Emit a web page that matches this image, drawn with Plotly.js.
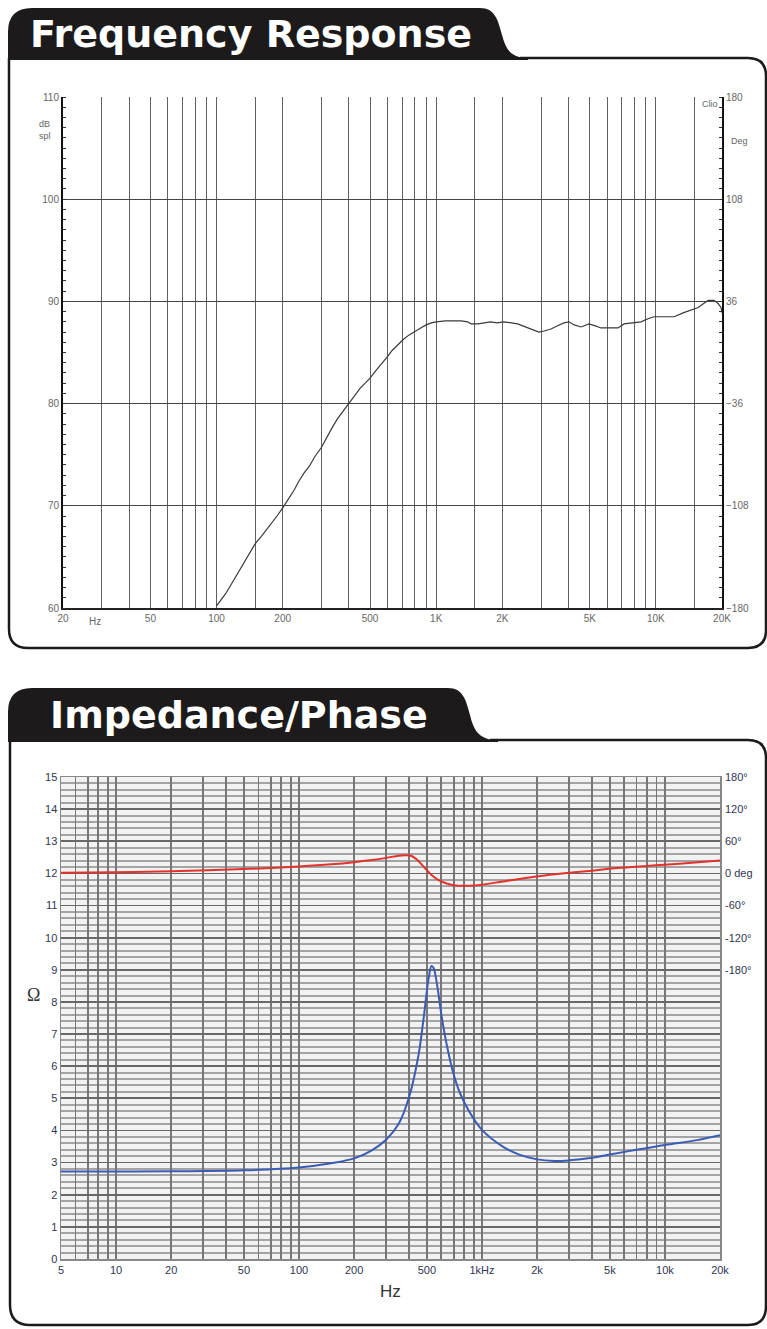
<!DOCTYPE html>
<html>
<head>
<meta charset="utf-8">
<script src="https://cdn.plot.ly/plotly-3.0.1.min.js"></script>
<style>html,body{margin:0;padding:0;background:#fff;}#chart{width:767px;height:1329px;}</style>
</head>
<body>
<div id="chart"></div>
<script>
// ---------- Frequency response (top) ----------
const frFreq = [100,105,110,118,125,132,140,150,160,170,180,190,200,212,225,237,250,265,280,300,315,335,355,375,400,425,450,475,500,530,560,600,630,670,710,750,800,850,900,950,1000,1100,1200,1300,1390,1440,1550,1650,1770,1900,2030,2200,2350,2480,2610,2750,2930,3100,3330,3550,3810,4020,4250,4560,4960,5300,5630,6200,6720,7160,7800,8560,9200,9800,10800,12100,13400,14500,15600,16500,17300,18400,19200,19800,20000];
const frDb = [60.2,60.8,61.4,62.5,63.4,64.3,65.3,66.3,67.0,67.7,68.4,69.1,69.8,70.6,71.5,72.4,73.2,73.9,74.8,75.7,76.6,77.6,78.5,79.2,80.1,80.8,81.5,82.0,82.5,83.2,83.8,84.6,85.2,85.8,86.3,86.7,87.1,87.4,87.7,87.9,88.0,88.1,88.1,88.1,88.0,87.8,87.8,87.9,88.0,87.9,88.0,87.9,87.8,87.6,87.4,87.2,87.0,87.1,87.3,87.6,87.9,88.0,87.7,87.5,87.8,87.6,87.4,87.4,87.4,87.8,87.9,88.0,88.3,88.5,88.5,88.5,88.9,89.2,89.4,89.8,90.1,90.1,89.8,89.4,88.9];
const frGridVals = [20,30,40,50,60,70,80,90,100,150,200,300,400,500,600,700,800,900,1000,1500,2000,3000,4000,5000,6000,7000,8000,9000,10000,15000,20000];
const frGridText = ["20","","","50","","","","","100","","200","","","500","","","","","1K","","2K","","","5K","","","","","10K","","20K"];
const frDbTicks = [60,70,80,90,100,110];
const frDegTicks = [-180,-108,-36,36,108,180];

// ---------- Impedance / phase (bottom) ----------
const zFreq = [5,10,20,50,100,150,200,250,300,350,400,450,480,510,530,545,560,580,600,640,700,760,850,1000,1300,1600,2000,2500,3000,4000,5000,7000,10000,15000,20000];
const zOhm  = [2.72,2.72,2.73,2.76,2.85,2.98,3.13,3.38,3.72,4.2,5.05,6.35,7.5,8.7,9.12,9.05,8.75,8.2,7.6,6.7,5.75,5.15,4.6,4.02,3.5,3.25,3.1,3.05,3.07,3.15,3.25,3.4,3.55,3.7,3.85];
const phFreq = [5,10,20,50,100,150,200,250,300,350,380,410,440,470,500,530,570,620,680,750,850,1000,1300,1700,2200,3000,4000,5500,8000,12000,20000];
const phDeg  = [1,2,4,8,13,17,21,25,29,33,34,33,26,16,6,-3,-11,-17,-21,-23,-23,-21,-15,-9,-4,1,5,10,14,18,24];
const zGridVals = [5,6,7,8,9,10,20,30,40,50,60,70,80,90,100,200,300,400,500,600,700,800,900,1000,2000,3000,4000,5000,6000,7000,8000,9000,10000,20000];
const zGridText = ["5","","","","","10","20","","","50","","","","","100","200","","","500","","","","","1kHz","2k","","","5k","","","","","10k","20k"];
const zPhaseTicks = [180,120,60,0,-60,-120,-180];
const zPhaseText = ["180°","120°","60°","0 deg","-60°","-120°","-180°"];

const W = 767, H = 1329;
const px = x => x / W;
const py = y => 1 - y / H;
function path(pts) {
  return pts.map(c => {
    const cmd = c[0];
    const nums = c.slice(1);
    const out = [];
    for (let i = 0; i < nums.length; i += 2) out.push(px(nums[i]).toFixed(5) + ',' + py(nums[i+1]).toFixed(5));
    return cmd + (out.length ? ' ' + out.join(' ') : '');
  }).join(' ');
}

const traces = [
  {x: frFreq, y: frDb, xaxis: 'x', yaxis: 'y', mode: 'lines', line: {color: '#3a3a3a', width: 1.2}, hoverinfo: 'skip'},
  {x: [], y: [], xaxis: 'x', yaxis: 'y3', mode: 'lines', hoverinfo: 'skip'},
  {x: zFreq, y: zOhm, xaxis: 'x2', yaxis: 'y2', mode: 'lines', line: {color: '#3b5cb5', width: 2, shape: 'spline'}, hoverinfo: 'skip'},
  {x: phFreq, y: phDeg, xaxis: 'x2', yaxis: 'y4', mode: 'lines', line: {color: '#e3322b', width: 2, shape: 'spline'}, hoverinfo: 'skip'}
];

const smallFont = {family: 'Liberation Sans, Arial, sans-serif', size: 10, color: '#666'};
const navyFont = {family: 'Liberation Sans, Arial, sans-serif', size: 11, color: '#2f3552'};

const layout = {
  width: W, height: H,
  margin: {l: 0, r: 0, t: 0, b: 0},
  paper_bgcolor: '#fff', plot_bgcolor: '#fff',
  showlegend: false,
  xaxis: {type: 'log', domain: [px(63), px(722)], range: [Math.log10(20), Math.log10(20000)],
    tickmode: 'array', tickvals: frGridVals, ticktext: frGridText, tickfont: smallFont,
    showgrid: true, gridcolor: '#606060', gridwidth: 1, zeroline: false,
    showline: true, linecolor: '#222', linewidth: 1.5, ticks: '', anchor: 'y', fixedrange: true},
  yaxis: {domain: [py(608), py(97)], range: [60, 110], tickmode: 'array', tickvals: frDbTicks,
    tickfont: smallFont, showgrid: true, gridcolor: '#444', gridwidth: 1.2, zeroline: false,
    showline: true, linecolor: '#111', linewidth: 2, ticks: '', anchor: 'x',
    minor: {tickmode: 'linear', tick0: 60, dtick: 1, ticks: 'inside', ticklen: 3, tickcolor: '#333', showgrid: false}},
  yaxis3: {overlaying: 'y', side: 'right', anchor: 'x', range: [-180, 180], tickmode: 'array', tickvals: frDegTicks,
    tickfont: smallFont, showgrid: false, zeroline: false, showline: true, linecolor: '#111', linewidth: 2, ticks: '',
    minor: {tickmode: 'linear', tick0: -180, dtick: 7.2, ticks: 'inside', ticklen: 3, tickcolor: '#333', showgrid: false}},
  xaxis2: {type: 'log', domain: [px(61), px(720)], range: [Math.log10(5), Math.log10(20000)],
    tickmode: 'array', tickvals: zGridVals, ticktext: zGridText, tickfont: navyFont,
    showgrid: true, gridcolor: '#777', gridwidth: 1.8, zeroline: false,
    showline: true, linecolor: '#888', linewidth: 1.5, mirror: true, ticks: '', anchor: 'y2'},
  yaxis2: {domain: [py(1259), py(777)], range: [0, 15], tickmode: 'linear', tick0: 0, dtick: 1,
    tickfont: navyFont, showgrid: true, gridcolor: '#686868', gridwidth: 1.8, zeroline: false,
    showline: true, linecolor: '#888', linewidth: 1.5, mirror: true, ticks: '', anchor: 'x2',
    minor: {tickmode: 'linear', tick0: 0, dtick: 0.2, showgrid: true, gridcolor: '#a4a4a4', gridwidth: 2, ticks: ''}},
  yaxis4: {overlaying: 'y2', side: 'right', anchor: 'x2', range: [-720, 180], tickmode: 'array',
    tickvals: zPhaseTicks, ticktext: zPhaseText, tickfont: navyFont, showgrid: false, zeroline: false,
    showline: false, ticks: '', ticklabelstandoff: 4},
  shapes: [
    {type: 'rect', xref: 'x2 domain', yref: 'y2 domain', x0: 0, x1: 1, y0: 0, y1: 1, fillcolor: '#f2f2f2', line: {width: 0}, layer: 'below'},
    {type: 'path', xref: 'paper', yref: 'paper', fillcolor: '#1c1a1a', line: {width: 0},
      path: path([['M',8,60],['L',8,32],['Q',8,8,32,8],['L',480,8],['C',495,8,498,20,502,35],['C',506,50,511,58,528,58],['L',528,60],['Z']])},
    {type: 'path', xref: 'paper', yref: 'paper', line: {color: '#1c1a1a', width: 2.5},
      path: path([['M',520,58],['L',748,58],['Q',766,58,766,76],['L',766,630],['Q',766,648,748,648],['L',28,648],['Q',9,648,9,629],['L',9,58]])},
    {type: 'path', xref: 'paper', yref: 'paper', fillcolor: '#1c1a1a', line: {width: 0},
      path: path([['M',8,742],['L',8,712],['Q',8,688,32,688],['L',448,688],['C',463,688,466,700,470,715],['C',474,732,480,740,498,740],['L',498,742],['Z']])},
    {type: 'path', xref: 'paper', yref: 'paper', line: {color: '#1c1a1a', width: 2.5},
      path: path([['M',490,740],['L',748,740],['Q',766,740,766,758],['L',766,1306],['Q',766,1325,748,1325],['L',30,1325],['Q',10,1325,10,1305],['L',10,740]])}
  ],
  annotations: [
    {xref: 'paper', yref: 'paper', x: px(28), y: py(34), xanchor: 'left', yanchor: 'middle', showarrow: false,
      text: 'Frequency Response', font: {family: 'DejaVu Sans, sans-serif', size: 38, color: '#fff', weight: 'bold'}},
    {xref: 'paper', yref: 'paper', x: px(48), y: py(715), xanchor: 'left', yanchor: 'middle', showarrow: false,
      text: 'Impedance/Phase', font: {family: 'DejaVu Sans, sans-serif', size: 38, color: '#fff', weight: 'bold'}},
    {xref: 'paper', yref: 'paper', x: px(37), y: py(130), xanchor: 'left', yanchor: 'middle', showarrow: false,
      text: 'dB<br>spl', align: 'left', font: {family: 'Liberation Sans, Arial, sans-serif', size: 9, color: '#666'}},
    {xref: 'paper', yref: 'paper', x: px(729), y: py(141), xanchor: 'left', yanchor: 'middle', showarrow: false,
      text: 'Deg', font: {family: 'Liberation Sans, Arial, sans-serif', size: 9, color: '#666'}},
    {xref: 'paper', yref: 'paper', x: px(700), y: py(104), xanchor: 'left', yanchor: 'middle', showarrow: false,
      text: 'Clio', font: {family: 'Liberation Sans, Arial, sans-serif', size: 9, color: '#666'}},
    {xref: 'paper', yref: 'paper', x: px(95), y: py(622), xanchor: 'center', yanchor: 'middle', showarrow: false,
      text: 'Hz', font: {family: 'Liberation Sans, Arial, sans-serif', size: 10, color: '#666'}},
    {xref: 'paper', yref: 'paper', x: px(390), y: py(1291), xanchor: 'center', yanchor: 'middle', showarrow: false,
      text: 'Hz', font: {family: 'Liberation Sans, Arial, sans-serif', size: 17, color: '#333'}},
    {xref: 'paper', yref: 'paper', x: px(33), y: py(995), xanchor: 'center', yanchor: 'middle', showarrow: false,
      text: 'Ω', font: {family: 'Liberation Serif, serif', size: 18, color: '#333'}}
  ]
};

Plotly.newPlot('chart', traces, layout, {staticPlot: true, displayModeBar: false});
</script>
</body>
</html>
